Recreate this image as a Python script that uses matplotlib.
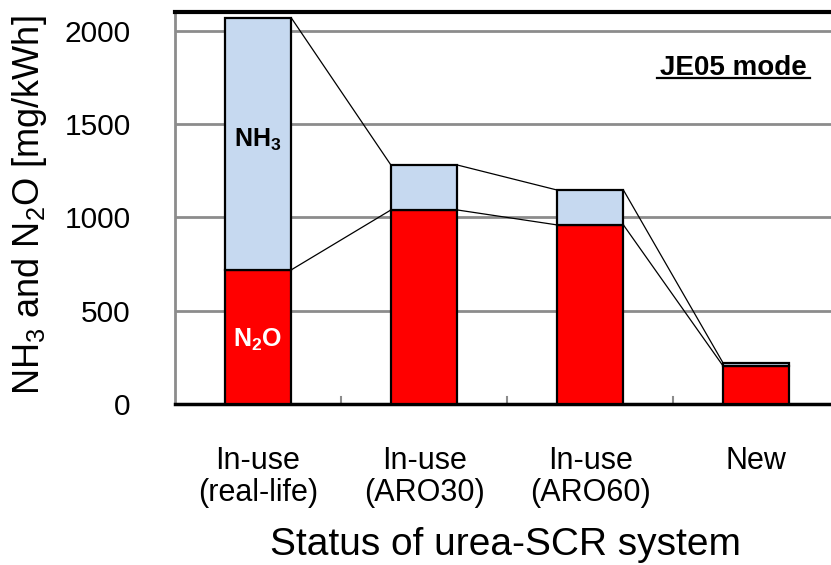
import matplotlib
matplotlib.use("Agg")
import matplotlib.pyplot as plt
import numpy as np

plt.rcParams['font.family'] = ['Liberation Sans', 'DejaVu Sans']
plt.rcParams['mathtext.fontset'] = 'custom'
plt.rcParams['mathtext.rm'] = 'Liberation Sans'
plt.rcParams['mathtext.bf'] = 'Liberation Sans:bold'

categories = ["In-use\n(real-life)", "In-use\n(ARO30)", "In-use\n(ARO60)", "New"]
n2o = [719, 1040, 960, 204]
nh3 = [1351, 241, 187, 16]

fig = plt.figure(figsize=(8.31, 5.65), dpi=100)
ax = fig.add_axes([0.2106, 0.285, 0.7894, 0.694])

x = np.arange(len(categories))
w = 0.40
tot = [a + b for a, b in zip(n2o, nh3)]
ax.bar(x, n2o, w, color="#ff0000", edgecolor="black", linewidth=1.6, zorder=3)
ax.bar(x, nh3, w, bottom=n2o, color="#c6d9f0", edgecolor="black", linewidth=1.6, zorder=3)

# connecting lines between neighbouring bars
for i in range(len(x) - 1):
    for vals in (n2o, tot):
        ax.plot([x[i] + w / 2, x[i + 1] - w / 2], [vals[i], vals[i + 1]],
                color="black", linewidth=0.9, zorder=4)

ax.set_xlim(-0.5, 3.45)
ax.set_ylim(0, 2102)
ax.set_yticks([0, 500, 1000, 1500, 2000])
ax.yaxis.grid(True, color="#8c8c8c", linewidth=2)
ax.set_axisbelow(True)
ax.tick_params(axis="y", length=0, labelsize=21.5, pad=32)

ax.set_xticks(x)
ax.set_xticklabels(categories, fontsize=22, linespacing=1.12)
ax.tick_params(axis="x", length=0, pad=30)
for b in [0.5, 1.5, 2.5]:
    ax.plot([b, b], [0, 35], color="#8c8c8c", linewidth=1.5, zorder=2, clip_on=False)

ax.spines["left"].set_color("#8c8c8c")
ax.spines["left"].set_linewidth(2)
ax.spines["bottom"].set_linewidth(2.5)
ax.spines["top"].set_linewidth(3)
ax.spines["right"].set_visible(False)

fig.text(30 / 831, 1 - 205 / 565, r"NH$_3$ and N$_2$O [mg/kWh]", fontsize=26,
         rotation=90, ha="center", va="center")
fig.text(506 / 831, 1 - 545 / 565, "Status of urea-SCR system", fontsize=28,
         ha="center", va="center")

ax.text(0, 1415, r"$\mathbf{NH_3}$", ha="center", va="center", fontsize=18, color="black", zorder=5)
ax.text(0, 345, r"$\mathbf{N_2O}$", ha="center", va="center", fontsize=18, color="white", zorder=5)
ax.text(2.863, 1762, "JE05 mode", ha="center", va="baseline", fontsize=20, fontweight="bold")
ax.plot([2.40, 3.325], [1748, 1748], color="black", linewidth=1.6)

fig.savefig("out.png", dpi=100)
